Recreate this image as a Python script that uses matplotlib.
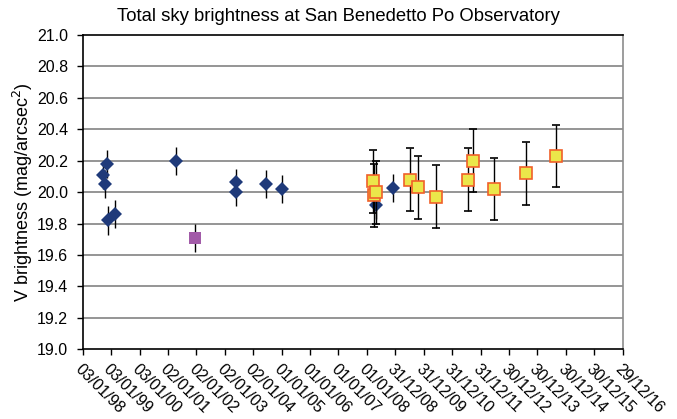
import matplotlib
matplotlib.use("Agg")
import matplotlib.pyplot as plt
import numpy as np
from datetime import datetime

plt.rcParams['font.family'] = ['Liberation Sans', 'DejaVu Sans']

# Blue diamonds
blue_dates = ["1998-09-17", "1998-10-16", "1998-11-07", "1998-11-28", "1999-02-22",
              "2001-04-14", "2003-05-24", "2003-05-24", "2004-06-12", "2005-01-01",
              "2008-05-03", "2008-11-25"]
blue_vals = [20.11, 20.05, 20.18, 19.82, 19.86, 20.20, 20.065, 20.00, 20.05, 20.02, 19.92, 20.025]
blue_err = [0.09, 0.09, 0.09, 0.09, 0.09, 0.09, 0.085, 0.085, 0.09, 0.09, 0.09, 0.09]

# Purple square
purple_dates = ["2001-12-14"]
purple_vals = [19.71]
purple_err = [0.09]

# Yellow squares
yellow_dates = ["2008-03-21", "2008-03-26", "2008-05-03", "2009-07-13", "2009-10-12",
                "2010-06-04", "2011-07-19", "2011-09-30", "2012-06-18", "2013-08-11",
                "2014-08-29"]
yellow_vals = [20.07, 19.98, 20.00, 20.08, 20.03, 19.97, 20.08, 20.20, 20.02, 20.12, 20.23]
yellow_err = [0.2, 0.2, 0.2, 0.2, 0.2, 0.2, 0.2, 0.2, 0.2, 0.2, 0.2]

xtick_labels = ["03/01/98", "03/01/99", "03/01/00", "02/01/01", "02/01/02", "02/01/03",
                "02/01/04", "01/01/05", "01/01/06", "01/01/07", "01/01/08", "31/12/08",
                "31/12/09", "31/12/10", "31/12/11", "30/12/12", "30/12/13", "30/12/14",
                "30/12/15", "29/12/16"]
yticks = [19.0, 19.2, 19.4, 19.6, 19.8, 20.0, 20.2, 20.4, 20.6, 20.8, 21.0]

def to_dt(lst):
    return [datetime.strptime(s, "%Y-%m-%d") for s in lst]

xtick_pos = [datetime.strptime(s, "%d/%m/%y") for s in xtick_labels]

fig = plt.figure(figsize=(6.77, 4.19), dpi=100)
ax = fig.add_axes([82.7/677, 1-349.3/419, (622.7-82.7)/677, (349.3-35)/419])

ax.set_ylim(19.0, 21.0)
ax.set_xlim(xtick_pos[0], xtick_pos[-1])
ax.set_yticks(yticks)
ax.set_yticklabels([f"{v:.1f}" for v in yticks], fontsize=11.5)
for v in yticks[1:-1]:
    ax.axhline(v, color='#8c8c8c', lw=1.3, zorder=0)
ax.set_xticks(xtick_pos)
ax.set_xticklabels(xtick_labels, rotation=-45, ha='left', va='top',
                   rotation_mode='anchor', fontsize=11.5)
ax.tick_params(axis='x', direction='out', length=4.5, width=1, pad=4)
ax.tick_params(axis='y', direction='out', length=4.5, width=1, pad=6)

ax.spines['left'].set_color('black')
ax.spines['bottom'].set_color('black')
ax.spines['top'].set_color('black')
ax.spines['right'].set_color('#8c8c8c')
for s in ax.spines.values():
    s.set_linewidth(1.2)

ekw = dict(ecolor='black', elinewidth=1, capsize=3, capthick=1, linestyle='none')
ax.errorbar(to_dt(blue_dates), blue_vals, yerr=blue_err, fmt='D', color='#1f3a7a',
            markersize=7.5, markeredgewidth=0, zorder=3, **ekw)
ax.errorbar(to_dt(purple_dates), purple_vals, yerr=purple_err, fmt='s', color='#a25ba8',
            markersize=8.5, markeredgewidth=0, zorder=3, **ekw)
ax.errorbar(to_dt(yellow_dates), yellow_vals, yerr=yellow_err, fmt='s', markerfacecolor='#ebe64a',
            markeredgecolor='#f0602a', markersize=8, markeredgewidth=1.2, zorder=4, **ekw)

ax.set_ylabel("V brightness (mag/arcsec$^2$)", fontsize=13, labelpad=1)
fig.suptitle("Total sky brightness at San Benedetto Po Observatory", fontsize=13.3,
             x=0.5, y=1-8/419, va='top')

fig.savefig("out.png", dpi=100)
